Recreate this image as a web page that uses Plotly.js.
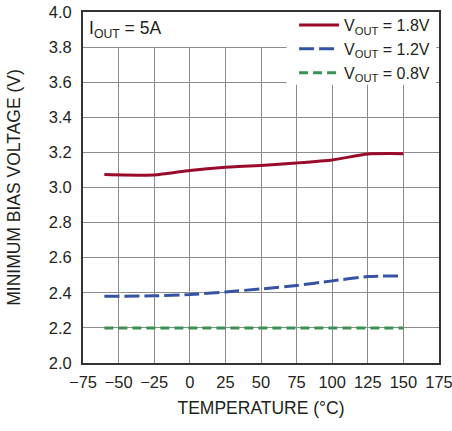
<!DOCTYPE html>
<html>
<head>
<meta charset="utf-8">
<script src="https://cdn.plot.ly/plotly-3.0.1.min.js"></script>
<style>html,body{margin:0;padding:0;background:#fff;}#chart{width:452px;height:431px;}</style>
</head>
<body>
<div id="chart"></div>
<script>
const temperature = [-60, -25, 0, 25, 50, 75, 100, 125, 150];
const vout18 = [3.074, 3.071, 3.097, 3.115, 3.126, 3.140, 3.157, 3.191, 3.193];
const vout12 = [2.380, 2.383, 2.390, 2.405, 2.422, 2.442, 2.468, 2.493, 2.496];
const vout08 = [2.200, 2.200, 2.200, 2.200, 2.200, 2.200, 2.200, 2.200, 2.200];
const seriesNames = ['V<sub>OUT</sub> = 1.8V', 'V<sub>OUT</sub> = 1.2V', 'V<sub>OUT</sub> = 0.8V'];
const xTicks = [-75, -50, -25, 0, 25, 50, 75, 100, 125, 150, 175];
const yTicks = [2.0, 2.2, 2.4, 2.6, 2.8, 3.0, 3.2, 3.4, 3.6, 3.8, 4.0];

const FONT = '"Liberation Sans", Arial, sans-serif';
const TXT = '#231f20';

const traces = [
  {x: temperature, y: vout18, name: seriesNames[0], mode: 'lines',
   line: {color: '#9a0a2a', width: 3, shape: 'spline', smoothing: 0.5}},
  {x: temperature, y: vout12, name: seriesNames[1], mode: 'lines',
   line: {color: '#3653a3', width: 3, shape: 'spline', smoothing: 0.5, dash: '15px,5px'}},
  {x: temperature, y: vout08, name: seriesNames[2], mode: 'lines',
   line: {color: '#3a9150', width: 3, dash: '9px,5px'}}
];

const layout = {
  width: 452, height: 431,
  margin: {l: 83, r: 13, t: 12, b: 68, autoexpand: false},
  paper_bgcolor: '#fff', plot_bgcolor: '#fff',
  font: {family: FONT, size: 17, color: TXT},
  showlegend: true,
  legend: {x: 0.989, xanchor: 'right', y: 1.011, yanchor: 'top', bgcolor: 'rgba(255,255,255,0)',
           borderwidth: 0, itemwidth: 40, tracegroupgap: 0,
           font: {family: FONT, size: 16, color: TXT}},
  xaxis: {range: [-75, 175], tickvals: xTicks, ticks: '', showgrid: true,
          gridcolor: '#8c8c8c', gridwidth: 1, zeroline: false,
          showline: true, mirror: true, linecolor: '#333', linewidth: 2,
          ticklabeloverflow: 'allow', ticklabelstandoff: 3,
          tickfont: {family: FONT, size: 16.5, color: TXT},
          title: {text: 'TEMPERATURE (°C)', font: {family: FONT, size: 17.5, color: TXT}, standoff: 12}},
  yaxis: {range: [2.0, 4.0], tickvals: yTicks, tickformat: '.1f', ticks: '', showgrid: true,
          gridcolor: '#8c8c8c', gridwidth: 1, zeroline: false,
          showline: true, mirror: true, linecolor: '#333', linewidth: 2,
          ticklabeloverflow: 'allow', ticklabelstandoff: 6,
          tickfont: {family: FONT, size: 16.5, color: TXT},
          title: {text: 'MINIMUM BIAS VOLTAGE (V)', font: {family: FONT, size: 17.5, color: TXT}, standoff: 24}},
  shapes: [
    {type: 'rect', layer: 'between', xref: 'x', yref: 'y', x0: -75, x1: 68, y0: 3.8, y1: 4.0,
     fillcolor: '#fff', line: {width: 0}},
    {type: 'rect', layer: 'between', xref: 'x', yref: 'y', x0: 68, x1: 173, y0: 3.585, y1: 4.0,
     fillcolor: '#fff', line: {width: 0}}
  ],
  annotations: [
    {text: 'I<sub>OUT</sub> = 5A', xref: 'paper', yref: 'paper', x: 0.012, y: 1, xanchor: 'left', yanchor: 'top',
     yshift: -4, showarrow: false, font: {family: FONT, size: 17.5, color: TXT}}
  ]
};

Plotly.newPlot('chart', traces, layout, {displayModeBar: false, staticPlot: true});
</script>
</body>
</html>
